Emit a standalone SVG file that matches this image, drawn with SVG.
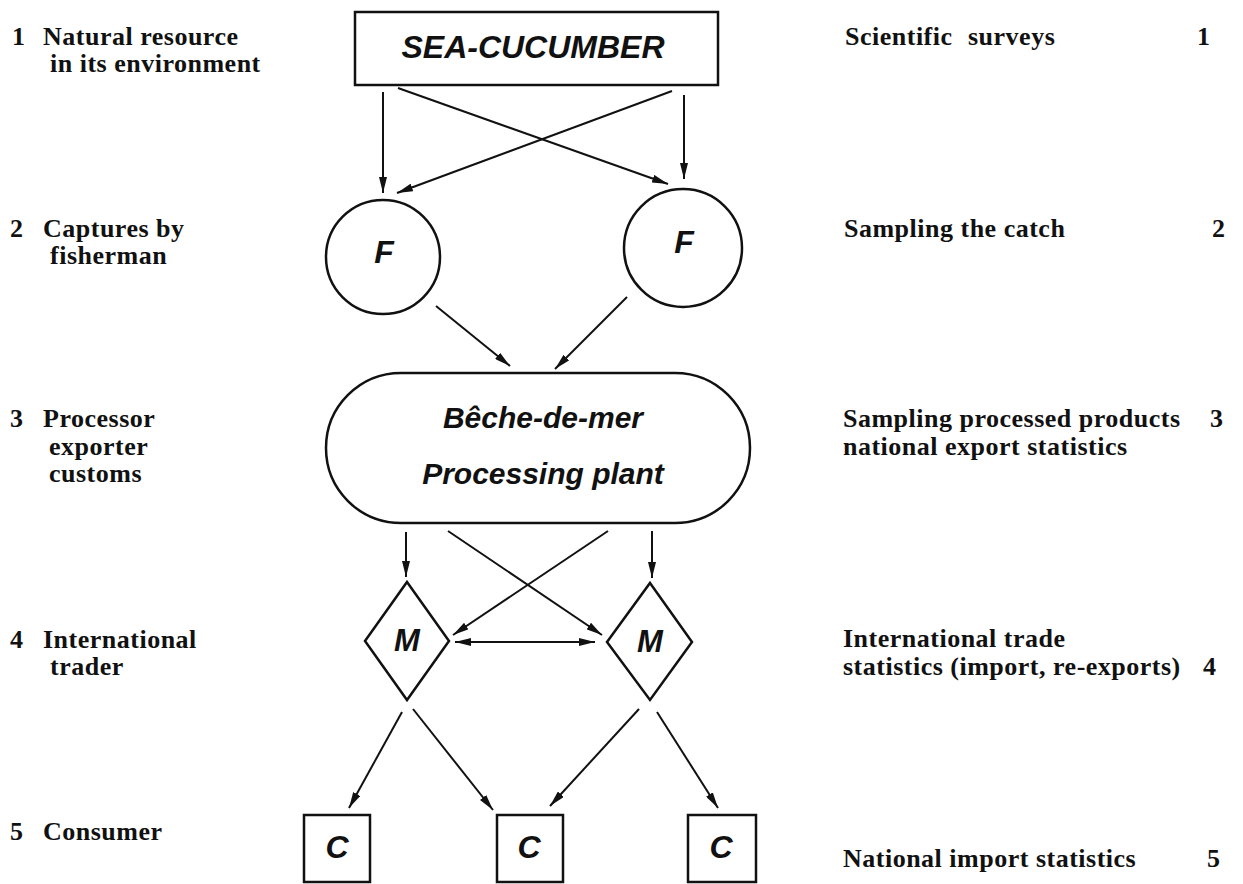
<svg xmlns="http://www.w3.org/2000/svg" width="1243" height="884" viewBox="0 0 1243 884">
<style>
.bg{fill:#ffffff}
.shape{fill:#ffffff;stroke:#111111;stroke-width:2.5}
.edge{fill:none;stroke:#111111;stroke-width:2;marker-end:url(#ah)}
.dbl{marker-start:url(#ah)}
.lbl{font-family:"Liberation Sans",Arial,sans-serif;font-weight:bold;font-style:italic;fill:#111111;text-anchor:middle}
.side{font-family:"Liberation Serif","Times New Roman",serif;font-weight:bold;font-size:26px;letter-spacing:0.5px;fill:#111111}
</style>
<defs>
<marker id="ah" viewBox="0 0 16 8" refX="16" refY="4" markerWidth="16" markerHeight="8" markerUnits="userSpaceOnUse" orient="auto-start-reverse">
<path d="M0,0 L16,4 L0,8 z" fill="#111111"/>
</marker>
</defs>
<rect class="bg" x="0" y="0" width="1243" height="884"/>

<g id="left-labels">
<text class="side" x="12" y="45">1</text>
<text class="side" x="43" y="45">Natural resource</text>
<text class="side" x="50" y="72">in its environment</text>
<text class="side" x="10" y="237">2</text>
<text class="side" x="43" y="237">Captures by</text>
<text class="side" x="50" y="264">fisherman</text>
<text class="side" x="10" y="427">3</text>
<text class="side" x="43" y="427">Processor</text>
<text class="side" x="49" y="455">exporter</text>
<text class="side" x="49" y="482">customs</text>
<text class="side" x="10" y="648">4</text>
<text class="side" x="43" y="648">International</text>
<text class="side" x="50" y="675">trader</text>
<text class="side" x="10" y="840">5</text>
<text class="side" x="43" y="840">Consumer</text>
</g>

<g id="right-labels">
<text class="side" x="845" y="45">Scientific<tspan x="968">surveys</tspan></text>
<text class="side" x="1197" y="45">1</text>
<text class="side" x="844" y="237">Sampling the catch</text>
<text class="side" x="1212" y="237">2</text>
<text class="side" x="843" y="427">Sampling processed products</text>
<text class="side" x="1210" y="427">3</text>
<text class="side" x="843" y="455">national export statistics</text>
<text class="side" x="843" y="647">International trade</text>
<text class="side" x="843" y="675">statistics (import, re-exports)</text>
<text class="side" x="1203" y="675">4</text>
<text class="side" x="843" y="867">National import statistics</text>
<text class="side" x="1207" y="867">5</text>
</g>

<g id="connectors">
<line class="edge" x1="383" y1="92" x2="383" y2="193"/>
<line class="edge" x1="398" y1="88" x2="668" y2="184"/>
<line class="edge" x1="672" y1="91" x2="397" y2="193"/>
<line class="edge" x1="684" y1="95" x2="684" y2="179"/>
<line class="edge" x1="436" y1="306" x2="510" y2="366"/>
<line class="edge" x1="627" y1="297" x2="555" y2="369"/>
<line class="edge" x1="406" y1="532" x2="406" y2="577"/>
<line class="edge" x1="652" y1="531" x2="652" y2="578"/>
<line class="edge" x1="448" y1="531" x2="602" y2="635"/>
<line class="edge" x1="608" y1="531" x2="453" y2="635"/>
<line class="edge dbl" x1="455" y1="642" x2="595" y2="642"/>
<line class="edge" x1="402" y1="712" x2="349" y2="808"/>
<line class="edge" x1="413" y1="709" x2="493" y2="810"/>
<line class="edge" x1="639" y1="709" x2="550" y2="806"/>
<line class="edge" x1="657" y1="712" x2="718" y2="808"/>
</g>

<g id="sea-cucumber">
<rect class="shape" x="355" y="12" width="363" height="73"/>
<text class="lbl" x="533" y="58" font-size="32">SEA-CUCUMBER</text>
</g>

<g id="fisherman-left">
<circle class="shape" cx="383" cy="257" r="57"/>
<text class="lbl" x="384" y="263" font-size="32">F</text>
</g>
<g id="fisherman-right">
<circle class="shape" cx="683" cy="248" r="59"/>
<text class="lbl" x="684" y="253" font-size="32">F</text>
</g>

<g id="processing-plant">
<rect class="shape" x="326" y="373" width="424" height="150" rx="75" ry="75"/>
<text class="lbl" x="543" y="428" font-size="30">Bêche-de-mer</text>
<text class="lbl" x="543" y="484" font-size="30">Processing plant</text>
</g>

<g id="trader-left">
<polygon class="shape" points="407,582 449,641 407,700 365,641"/>
<text class="lbl" x="407" y="651" font-size="31">M</text>
</g>
<g id="trader-right">
<polygon class="shape" points="650,583 692,642 650,700 607,642"/>
<text class="lbl" x="650" y="652" font-size="31">M</text>
</g>

<g id="consumer-1">
<rect class="shape" x="304" y="815" width="66" height="67"/>
<text class="lbl" x="337" y="858" font-size="32">C</text>
</g>
<g id="consumer-2">
<rect class="shape" x="497" y="815" width="66" height="67"/>
<text class="lbl" x="529" y="858" font-size="32">C</text>
</g>
<g id="consumer-3">
<rect class="shape" x="688" y="815" width="68" height="67"/>
<text class="lbl" x="721" y="858" font-size="32">C</text>
</g>
</svg>
